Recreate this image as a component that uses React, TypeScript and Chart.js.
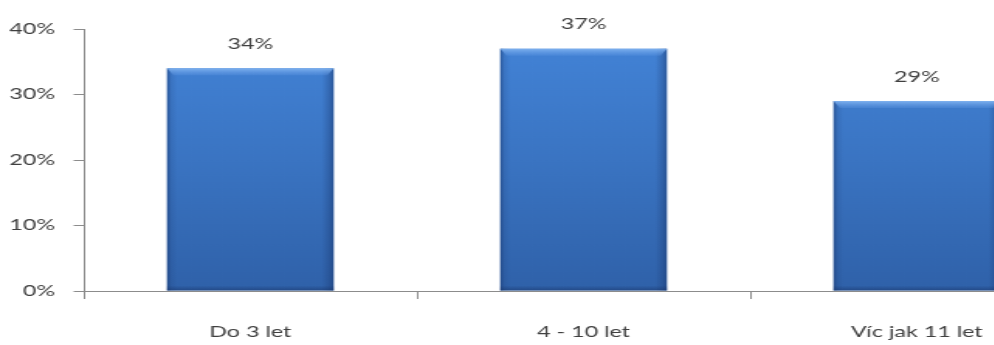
import React, { useEffect, useRef } from "react";
import { Chart, registerables } from "chart.js";

Chart.register(...registerables);

// Share of respondents by length of time
const categories = ["Do 3 let", "4 - 10 let", "Víc jak 11 let"];
const shares = [34, 37, 29];
const yTicks = [0, 10, 20, 30, 40];

// Horizontal stretch applied to the rendered canvas (wide, Calibri-like look)
const STRETCH = 1.55;
const INNER_W = 705;
const INNER_H = 345;

const TEXT = "#404040";
const AXIS = "#8c8c8c";
const FONT = { family: "Lato, 'Liberation Sans', sans-serif", size: 15 };

// Bevel and edge shading on top of each bar
const barShading = {
  id: "barShading",
  afterDatasetsDraw(chart: any) {
    const ctx = chart.ctx as CanvasRenderingContext2D;
    const meta = chart.getDatasetMeta(0);
    meta.data.forEach((bar: any) => {
      const { x, y, base, width } = bar.getProps(["x", "y", "base", "width"], true);
      const left = x - width / 2;
      const h = base - y;
      ctx.save();
      // darker sides
      const hg = ctx.createLinearGradient(left, 0, left + width, 0);
      hg.addColorStop(0, "rgba(25,55,110,0.55)");
      hg.addColorStop(0.025, "rgba(25,55,110,0.15)");
      hg.addColorStop(0.06, "rgba(25,55,110,0)");
      hg.addColorStop(0.93, "rgba(25,55,110,0)");
      hg.addColorStop(0.975, "rgba(25,55,110,0.3)");
      hg.addColorStop(1, "rgba(25,55,110,0.55)");
      ctx.fillStyle = hg;
      ctx.fillRect(left, y, width, h);
      // light bevel at the top
      const bh = 7;
      const tg = ctx.createLinearGradient(0, y, 0, y + bh);
      tg.addColorStop(0, "rgba(130,180,240,0.95)");
      tg.addColorStop(1, "rgba(100,155,230,0.25)");
      ctx.fillStyle = tg;
      ctx.beginPath();
      ctx.moveTo(left, y);
      ctx.lineTo(left + width, y);
      ctx.lineTo(left + width - 4, y + bh);
      ctx.lineTo(left + 4, y + bh);
      ctx.closePath();
      ctx.fill();
      // darker strip at the base
      const bg = ctx.createLinearGradient(0, base - 5, 0, base);
      bg.addColorStop(0, "rgba(20,45,95,0)");
      bg.addColorStop(1, "rgba(20,45,95,0.45)");
      ctx.fillStyle = bg;
      ctx.fillRect(left, base - 5, width, 5);
      ctx.restore();
    });
  },
};

// Percentage labels above bars
const valueLabels = {
  id: "valueLabels",
  afterDatasetsDraw(chart: any) {
    const ctx = chart.ctx as CanvasRenderingContext2D;
    const meta = chart.getDatasetMeta(0);
    const data = chart.data.datasets[0].data as number[];
    ctx.save();
    ctx.font = `${FONT.size}px ${FONT.family}`;
    ctx.fillStyle = TEXT;
    ctx.textAlign = "center";
    ctx.textBaseline = "middle";
    meta.data.forEach((bar: any, i: number) => {
      ctx.fillText(`${data[i]}%`, bar.x, bar.y - 24);
    });
    ctx.restore();
  },
};

export default function App() {
  const ref = useRef<HTMLCanvasElement | null>(null);

  useEffect(() => {
    if (!ref.current) return;
    const chart = new Chart(ref.current, {
      type: "bar",
      data: {
        labels: categories,
        datasets: [
          {
            data: shares,
            barPercentage: 0.5,
            categoryPercentage: 1,
            borderWidth: 0,
            backgroundColor: (c: any) => {
              const area = c.chart.chartArea;
              if (!area) return "#3c78c8";
              const g = c.chart.ctx.createLinearGradient(0, area.top, 0, area.bottom);
              g.addColorStop(0, "#4384d8");
              g.addColorStop(0.5, "#3a74c2");
              g.addColorStop(1, "#2f61a9");
              return g;
            },
          },
        ],
      },
      options: {
        animation: false,
        responsive: true,
        maintainAspectRatio: false,
        layout: { padding: { top: 29, right: 6, left: 0, bottom: 0 } },
        plugins: { legend: { display: false }, tooltip: { enabled: false } },
        scales: {
          x: {
            grid: {
              display: true,
              drawOnChartArea: false,
              color: AXIS,
              tickLength: 8,
              offset: true,
            },
            border: { color: AXIS },
            ticks: { color: TEXT, font: FONT, padding: 24, maxRotation: 0 },
            afterFit: (s: any) => {
              s.height = 54;
            },
          },
          y: {
            min: 0,
            max: 40,
            afterBuildTicks: (s: any) => {
              s.ticks = yTicks.map((v) => ({ value: v }));
            },
            grid: {
              display: true,
              drawOnChartArea: false,
              color: AXIS,
              tickLength: 6.5,
            },
            border: { color: AXIS },
            ticks: {
              color: TEXT,
              font: FONT,
              padding: 12,
              callback: (v: any) => `${v}%`,
            },
            afterFit: (s: any) => {
              s.width = 54;
            },
          },
        },
      },
      plugins: [barShading, valueLabels],
    });
    return () => chart.destroy();
  }, []);

  return (
    <div
      style={{
        position: "fixed",
        left: 0,
        top: 0,
        width: 994,
        height: 345,
        overflow: "hidden",
        background: "#fff",
      }}
    >
      <div
        style={{
          position: "absolute",
          left: 0,
          top: 0,
          width: INNER_W,
          height: INNER_H,
          transform: `scaleX(${STRETCH})`,
          transformOrigin: "0 0",
        }}
      >
        <canvas ref={ref} />
      </div>
    </div>
  );
}
